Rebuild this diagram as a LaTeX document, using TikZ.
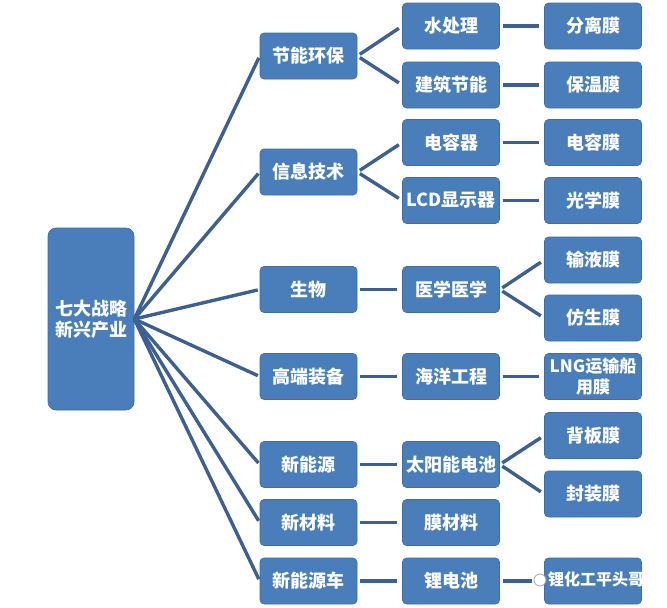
\documentclass[tikz,border=0pt]{standalone}
\usepackage{fontspec}
\setmainfont{Noto Sans CJK SC}
\definecolor{boxblue}{HTML}{4A7EBB}
\definecolor{boxedge}{HTML}{3E6CA6}
\definecolor{linkblue}{HTML}{3D5F92}
\begin{document}
\begin{tikzpicture}[x=1pt,y=-1pt,
  box/.style={draw=boxedge,line width=0.6pt,fill=boxblue,rounded corners=4pt,
    minimum width=97pt,minimum height=46pt,inner sep=0pt,text=white,
    font=\fontsize{18}{21}\selectfont\bfseries,align=center},
  rootbox/.style={box,minimum width=86pt,minimum height=182pt,rounded corners=8pt},
  link/.style={draw=linkblue,line width=3.4pt}]
\useasboundingbox (0,0) rectangle (667,608);
% root
\node[rootbox] (root) at (91,319) {七大战略\\新兴产业};
% level 1
\node[box] (a1) at (308.5,56) {节能环保};
\node[box] (a2) at (308.5,172) {信息技术};
\node[box] (a3) at (308.5,289.5) {生物};
\node[box] (a4) at (308.5,376.5) {高端装备};
\node[box] (a5) at (308.5,464.5) {新能源};
\node[box] (a6) at (308.5,522.5) {新材料};
\node[box] (a7) at (308.5,581) {新能源车};
% level 2
\node[box] (b1) at (451,26) {水处理};
\node[box] (b2) at (451,85) {建筑节能};
\node[box] (b3) at (451,142.5) {电容器};
\node[box] (b4) at (451,200.5) {LCD显示器};
\node[box] (b5) at (451,289.5) {医学医学};
\node[box] (b6) at (451,376.5) {海洋工程};
\node[box] (b7) at (451,464.5) {太阳能电池};
\node[box] (b8) at (451,522.5) {膜材料};
\node[box] (b9) at (451,581) {锂电池};
% level 3
\node[box] (c1) at (593,26) {分离膜};
\node[box] (c2) at (593,85) {保温膜};
\node[box] (c3) at (593,142.5) {电容膜};
\node[box] (c4) at (593,200.5) {光学膜};
\node[box] (c5) at (593,260) {输液膜};
\node[box] (c6) at (593,318) {仿生膜};
\node[box,font=\fontsize{17}{21}\selectfont\bfseries] (c7) at (593,376.5) {LNG运输船\\用膜};
\node[box] (c8) at (593,435.5) {背板膜};
\node[box] (c9) at (593,494) {封装膜};
\node[box] (c10) at (593,581) {};
% connectors root -> level 1
\foreach \n in {a1,a2,a3,a4,a5,a6,a7}
  \draw[link,shorten >=2pt] (root.east) -- (\n.west);
% level 1 -> level 2
\draw[link,shorten <=3pt,shorten >=4pt] (a1.east) -- (b1.west);
\draw[link,shorten <=3pt,shorten >=4pt] (a1.east) -- (b2.west);
\draw[link,shorten <=3pt,shorten >=4pt] (a2.east) -- (b3.west);
\draw[link,shorten <=3pt,shorten >=4pt] (a2.east) -- (b4.west);
\draw[link,shorten <=3pt,shorten >=5pt] (a3.east) -- (b5.west);
\draw[link,shorten <=3pt,shorten >=5pt] (a4.east) -- (b6.west);
\draw[link,shorten <=3pt,shorten >=5pt] (a5.east) -- (b7.west);
\draw[link,shorten <=3pt,shorten >=5pt] (a6.east) -- (b8.west);
\draw[link,shorten <=3pt,shorten >=5pt] (a7.east) -- (b9.west);
% level 2 -> level 3
\draw[link,shorten <=3pt,shorten >=5pt] (b1.east) -- (c1.west);
\draw[link,shorten <=3pt,shorten >=5pt] (b2.east) -- (c2.west);
\draw[link,shorten <=3pt,shorten >=5pt] (b3.east) -- (c3.west);
\draw[link,shorten <=3pt,shorten >=5pt] (b4.east) -- (c4.west);
\draw[link,shorten <=3pt,shorten >=4pt] (b5.east) -- (c5.west);
\draw[link,shorten <=3pt,shorten >=4pt] (b5.east) -- (c6.west);
\draw[link,shorten <=3pt,shorten >=5pt] (b6.east) -- (c7.west);
\draw[link,shorten <=3pt,shorten >=4pt] (b7.east) -- (c8.west);
\draw[link,shorten <=3pt,shorten >=4pt] (b7.east) -- (c9.west);
\draw[link,shorten <=3pt,shorten >=12pt] (b9.east) -- (c10.west);
% watermark
\node[circle,draw=gray!70,fill=white,line width=0.8pt,minimum size=12pt,inner sep=0pt] (icon) at (540,580) {};
\node[text=white,inner sep=0pt,font=\fontsize{16}{18}\selectfont\bfseries,anchor=west] (wm) at (548,579) {锂化工平头哥};
\end{tikzpicture}
\end{document}
